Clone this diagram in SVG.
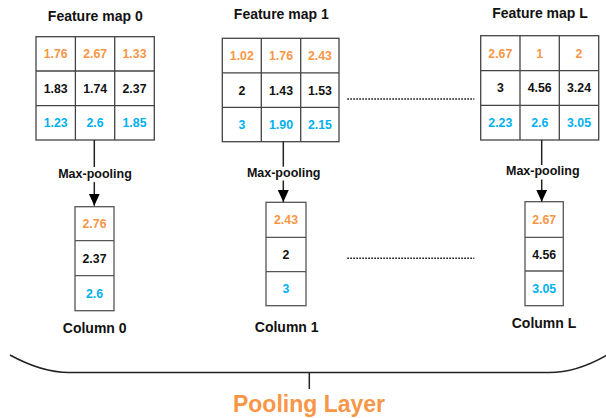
<svg xmlns="http://www.w3.org/2000/svg" width="606" height="418" viewBox="0 0 606 418">
<style>
.t{font-family:"Liberation Sans",Arial,sans-serif;font-weight:bold;text-anchor:middle}
.title{font-size:14px;fill:#111}
.num{font-size:12.3px}
.o{fill:#F79646}.k{fill:#111}.b{fill:#00B0F0}
.mp{font-size:12.5px;fill:#111}
.grid{fill:#fff;stroke:#444;stroke-width:1.3}
.col{fill:#fff;stroke:#555;stroke-width:1.3}
.ln{stroke:#222;stroke-width:1.5;fill:none}
.dot{stroke:#111;stroke-width:1.6;stroke-dasharray:1.6 1.4;fill:none}
</style>
<defs>
<marker id="ah" markerUnits="userSpaceOnUse" markerWidth="12" markerHeight="14" refX="12" refY="5.5" orient="auto">
<path d="M0,0 L12,5.5 L0,11 Z" fill="#000"/>
</marker>
</defs>
<g id="fmap0">
<text class="t title" x="95.3" y="20.7">Feature map 0</text>
<rect class="grid" x="36" y="36.7" width="118.3" height="103.3"/>
<path class="grid" d="M75.4,36.7V140M114.7,36.7V140M36,71H154.3M36,105.6H154.3"/>
<text class="t num o" x="55.7" y="58.1">1.76</text><text class="t num o" x="95.1" y="58.1">2.67</text><text class="t num o" x="134.5" y="58.1">1.33</text>
<text class="t num k" x="55.7" y="92.7">1.83</text><text class="t num k" x="95.1" y="92.7">1.74</text><text class="t num k" x="134.5" y="92.7">2.37</text>
<text class="t num b" x="55.7" y="127.2">1.23</text><text class="t num b" x="95.1" y="127.2">2.6</text><text class="t num b" x="134.5" y="127.2">1.85</text>
</g>
<g id="fmap1">
<text class="t title" x="281.3" y="19">Feature map 1</text>
<rect class="grid" x="222.3" y="38.3" width="116.7" height="103.4"/>
<path class="grid" d="M261.3,38.3V141.7M300.7,38.3V141.7M222.3,72.8H339M222.3,107.3H339"/>
<text class="t num o" x="241.8" y="60">1.02</text><text class="t num o" x="281" y="60">1.76</text><text class="t num o" x="319.9" y="60">2.43</text>
<text class="t num k" x="241.8" y="94.5">2</text><text class="t num k" x="281" y="94.5">1.43</text><text class="t num k" x="319.9" y="94.5">1.53</text>
<text class="t num b" x="241.8" y="128.8">3</text><text class="t num b" x="281" y="128.8">1.90</text><text class="t num b" x="319.9" y="128.8">2.15</text>
</g>
<g id="fmapL">
<text class="t title" x="540" y="18.3">Feature map L</text>
<rect class="grid" x="480.7" y="35.7" width="118" height="104.3"/>
<path class="grid" d="M520,35.7V140M559.3,35.7V140M480.7,70.7H598.7M480.7,105.3H598.7"/>
<text class="t num o" x="500.3" y="57.5">2.67</text><text class="t num o" x="539.7" y="57.5">1</text><text class="t num o" x="579" y="57.5">2</text>
<text class="t num k" x="500.3" y="92.3">3</text><text class="t num k" x="539.7" y="92.3">4.56</text><text class="t num k" x="579" y="92.3">3.24</text>
<text class="t num b" x="500.3" y="127">2.23</text><text class="t num b" x="539.7" y="127">2.6</text><text class="t num b" x="579" y="127">3.05</text>
</g>
<g id="col0">
<rect class="col" x="75" y="206.7" width="39" height="104"/>
<path class="col" d="M75,240.7H114M75,275.7H114"/>
<text class="t num o" x="94.5" y="228">2.76</text>
<text class="t num k" x="94.5" y="262.5">2.37</text>
<text class="t num b" x="94.5" y="297.5">2.6</text>
<text class="t title" x="94.7" y="332.7">Column 0</text>
</g>
<g id="col1">
<rect class="col" x="266" y="202.3" width="40" height="103.4"/>
<path class="col" d="M266,237.3H306M266,271.7H306"/>
<text class="t num o" x="286" y="224.1">2.43</text>
<text class="t num k" x="286" y="258.8">2</text>
<text class="t num b" x="286" y="293">3</text>
<text class="t title" x="286.7" y="331.7">Column 1</text>
</g>
<g id="colL">
<rect class="col" x="525" y="201.7" width="38.3" height="104"/>
<path class="col" d="M525,237.3H563.3M525,271H563.3"/>
<text class="t num o" x="544.2" y="223.8">2.67</text>
<text class="t num k" x="544.2" y="258.5">4.56</text>
<text class="t num b" x="544.2" y="292.7">3.05</text>
<text class="t title" x="544" y="327.7">Column L</text>
</g>
<g id="labels">
<text class="t mp" x="95" y="177.7">Max-pooling</text>
<text class="t mp" x="283.7" y="176.7">Max-pooling</text>
<text class="t mp" x="542.8" y="175">Max-pooling</text>
</g>
<g id="connectors">
<path class="ln" d="M94.3,140V167"/>
<path class="ln" d="M94.3,182V205.7" marker-end="url(#ah)"/>
<path class="ln" d="M283.3,141.7V166.7"/>
<path class="ln" d="M283.3,180.5V202" marker-end="url(#ah)"/>
<path class="ln" d="M541.7,140V165"/>
<path class="ln" d="M541.7,179.5V201.7" marker-end="url(#ah)"/>
<path class="dot" d="M347.3,99H474.3"/>
<path class="dot" d="M347.3,258.3H474.3"/>
</g>
<g id="pooling-layer">
<path class="ln" d="M10,355 C30,366 50,372.5 69,372.5 H549 C568,372.5 588,366 607,355"/>
<path class="ln" d="M309.3,372.5V389"/>
<text x="309" y="411.7" style="font-family:'Liberation Sans',Arial,sans-serif;font-weight:bold;font-size:23px;fill:#F79646;text-anchor:middle">Pooling Layer</text>
</g>
</svg>
